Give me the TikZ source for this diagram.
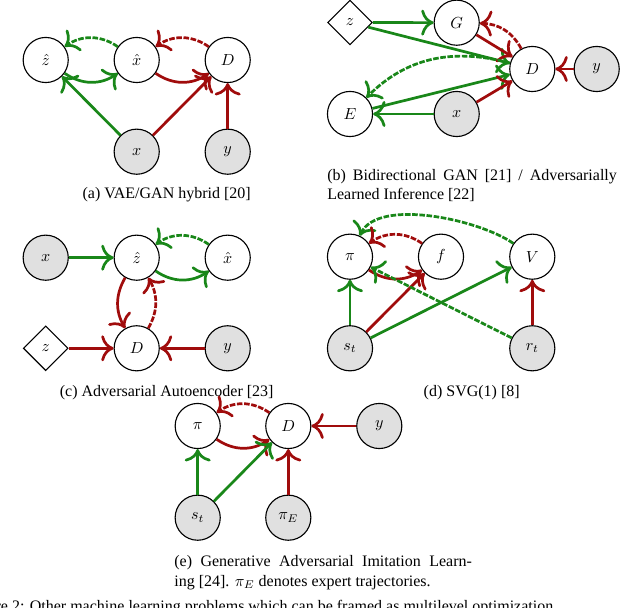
\documentclass[tikz,border=0pt]{standalone}
\usepackage{fontspec}
\setmainfont{Liberation Serif}
\usetikzlibrary{shapes.geometric,arrows.meta}
\definecolor{gcol}{RGB}{25,135,25}
\definecolor{rcol}{RGB}{160,12,12}
\begin{document}
\begin{tikzpicture}[x=0.625pt,y=0.625pt,
  >={To[scale=1.45]},
  var/.style={circle,draw=black,line width=0.7pt,minimum size=28.2pt,inner sep=0pt},
  obs/.style={var,fill=black!12},
  lat/.style={diamond,draw=black,line width=0.7pt,minimum size=28pt,inner sep=0pt,aspect=1},
  ga/.style={->,draw=gcol,line width=1.7pt},
  ra/.style={->,draw=rcol,line width=1.7pt},
  dsh/.style={dash pattern=on 3.5pt off 1pt},
  captxt/.style={inner sep=0pt,font=\fontsize{10}{12}\selectfont}
]
\useasboundingbox (0,0) rectangle (640,608);
\clip (0,0) rectangle (640,608);

% (a) VAE/GAN hybrid
\node[var] (zh) at (45.7,548) {$\hat z$};
\node[var] (xh) at (136.7,548) {$\hat x$};
\node[var] (Da) at (227.7,548) {$D$};
\node[obs] (xa) at (136.7,456.3) {$x$};
\node[obs] (ya) at (227.7,456.3) {$y$};
\draw[ga,dsh] (xh) to[bend right=35] (zh);
\draw[ga] (zh) to[bend right=35] (xh);
\draw[ra,dsh] (Da) to[bend right=35] (xh);
\draw[ra] (xh) to[bend right=35] (Da);
\draw[ga] (xa) -- (zh);
\draw[ra] (xa) -- (Da);
\draw[ra] (ya) -- (Da);
\node[captxt,anchor=base] (capa) at (166.7,409.7) {(a) VAE/GAN hybrid [20]};

% (b) BiGAN / ALI
\node[lat] (zb) at (350,585.5) {$z$};
\node[var] (Gb) at (456.7,585.3) {$G$};
\node[var] (Db) at (532.3,539) {$D$};
\node[obs] (yb) at (596.7,539) {$y$};
\node[var] (Eb) at (350,494) {$E$};
\node[obs] (xb) at (456.7,494) {$x$};
\draw[ga] (zb) -- (Gb);
\draw[ga] (zb) -- (Db);
\draw[ra,dsh] (Db) to[bend right=30] (Gb);
\draw[ra] (Gb) -- (Db);
\draw[ga,dsh] (Db) to[out=165,in=45] (Eb);
\draw[ga] (Eb) -- (Db);
\draw[ra] (xb) -- (Db);
\draw[ga] (xb) -- (Eb);
\draw[ra] (yb) -- (Db);
\node[captxt,anchor=base west,text width=181pt,align=justify] (capb) at (327,427.3)
  {(b) Bidirectional GAN [21] / Adversarially\linebreak Learned Inference [22]};

% (c) Adversarial Autoencoder
\node[obs] (xc) at (45.7,350.3) {$x$};
\node[var] (zhc) at (136.7,350.3) {$\hat z$};
\node[var] (xhc) at (227.7,350.3) {$\hat x$};
\node[lat] (zc) at (45.7,259.7) {$z$};
\node[var] (Dc) at (136.7,259.7) {$D$};
\node[obs] (yc) at (227.7,259.7) {$y$};
\draw[ga] (xc) -- (zhc);
\draw[ga,dsh] (xhc) to[bend right=35] (zhc);
\draw[ga] (zhc) to[bend right=35] (xhc);
\draw[ra] (zhc) to[bend right=30] (Dc);
\draw[ra,dsh] (Dc) to[bend right=30] (zhc);
\draw[ra] (zc) -- (Dc);
\draw[ra] (yc) -- (Dc);
\node[captxt,anchor=base] (capc) at (166.7,211.3) {(c) Adversarial Autoencoder [23]};

% (d) SVG(1)
\node[var] (pid) at (350,351.3) {$\pi$};
\node[var] (fd) at (441,351.3) {$f$};
\node[var] (Vd) at (532.3,351.3) {$V$};
\node[obs] (sd) at (350,259.7) {$s_t$};
\node[obs] (rd) at (532.3,259.7) {$r_t$};
\draw[ga,dsh] (Vd) to[out=145,in=65,looseness=0.7] (pid);
\draw[ra,dsh] (fd) to[bend right=35] (pid);
\draw[ra] (pid) to[bend right=35] (fd);
\draw[ga] (sd) -- (pid);
\draw[ra] (sd) -- (fd);
\draw[ga] (sd) -- (Vd);
\draw[ga,dsh] (rd) -- (pid);
\draw[ra] (rd) -- (Vd);
\node[captxt,anchor=base] (capd) at (471.7,211.3) {(d) SVG(1) [8]};

% (e) GAIL
\node[var] (pie) at (197.7,182) {$\pi$};
\node[var] (De) at (288.3,182) {$D$};
\node[obs] (ye) at (379.3,182) {$y$};
\node[obs] (se) at (197.7,90.3) {$s_t$};
\node[obs] (pEe) at (288.3,90.3) {$\pi_E$};
\draw[ra,dsh] (De) to[bend right=35] (pie);
\draw[ra] (pie) to[bend right=35] (De);
\draw[ra] (ye) -- (De);
\draw[ga] (se) -- (pie);
\draw[ga] (se) -- (De);
\draw[ra] (pEe) -- (De);
\node[captxt,anchor=base west,text width=186pt,align=justify] (cape) at (174,41)
  {(e) Generative Adversarial Imitation Learn-\linebreak ing [24]. $\pi_E$ denotes expert trajectories.};

% figure caption (cut off at the bottom edge, as in the reference)
\node[captxt,anchor=base west] (figcap) at (-34,-4)
  {Figure 2: Other machine learning problems which can be framed as multilevel optimization};
\end{tikzpicture}
\end{document}
